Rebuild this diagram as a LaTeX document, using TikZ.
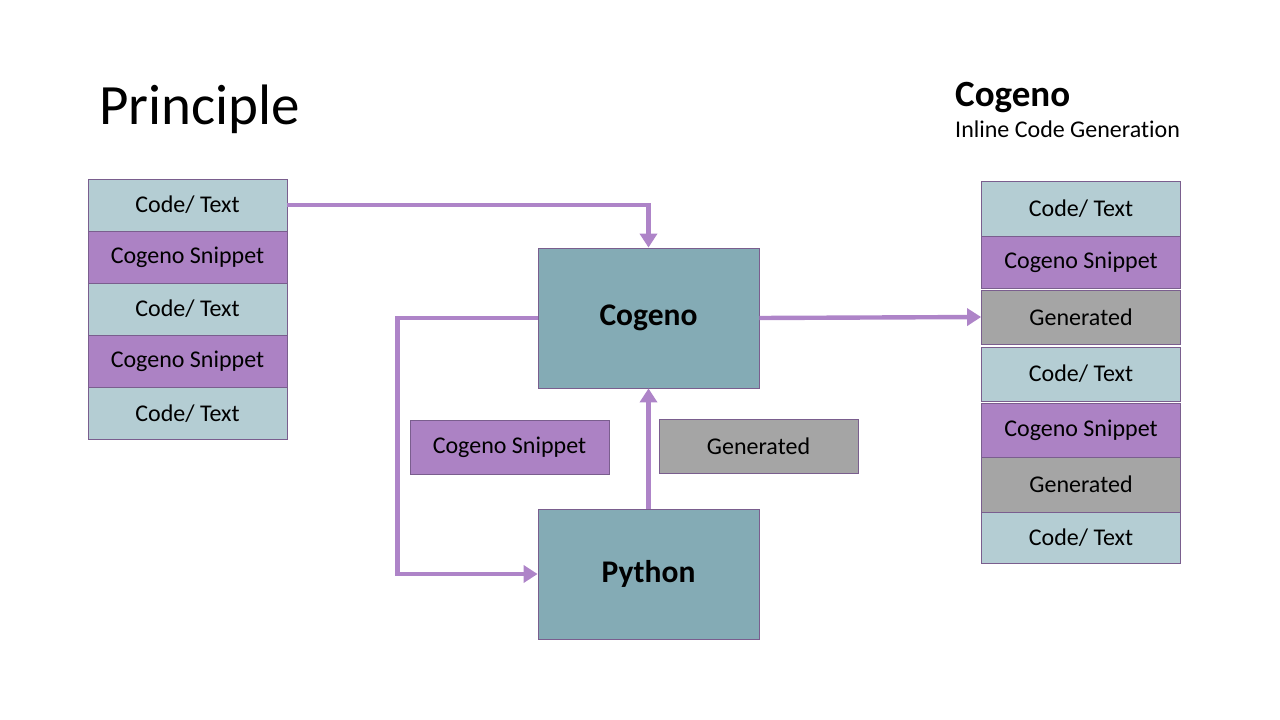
\documentclass[tikz,border=0pt]{standalone}
\usepackage{fontspec}
\setmainfont[RawFeature=-liga]{Carlito}
\usepackage{tikz}
\usetikzlibrary{arrows.meta}

\definecolor{codecol}{HTML}{B4CDD3}
\definecolor{snipcol}{HTML}{AC82C4}
\definecolor{gencol}{HTML}{A5A5A5}
\definecolor{boxcol}{HTML}{84ABB5}
\definecolor{edgecol}{HTML}{7A5E8E}
\definecolor{flowcol}{HTML}{AE84C8}

\tikzset{
  block/.style={draw=edgecol,line width=0.8pt,rectangle,inner sep=0pt,minimum width=199pt,minimum height=52pt,font=\fontsize{24pt}{28pt}\selectfont},
  code/.style={block,fill=codecol},
  snip/.style={block,fill=snipcol},
  gen/.style={block,fill=gencol},
  engine/.style={block,fill=boxcol,minimum width=221pt,minimum height=140pt,font=\fontsize{31.5pt}{36pt}\selectfont\bfseries},
  flow/.style={draw=flowcol,line width=4.4pt,-{Triangle[width=17pt,length=14pt]}}
}

\begin{document}
\begin{tikzpicture}[x=1pt,y=-1pt]
        \useasboundingbox (0,0) rectangle (1280,720);

        \node[anchor=base west,inner sep=0pt,font=\fontsize{57pt}{62pt}\selectfont] (title) at (99,124) {Principle};
        \node[anchor=base west,inner sep=0pt,font=\fontsize{37pt}{42pt}\selectfont\bfseries] (name) at (955,106) {Cogeno};
        \node[anchor=base west,inner sep=0pt,font=\fontsize{24pt}{28pt}\selectfont] (sub) at (955,137) {Inline Code Generation};

        % input file
        \begin{scope}[minimum height=52.4pt]
            \node[code] (l1) at (187.5,205) {Code/ Text};
            \node[snip] (l2) at (187.5,257.5) {Cogeno Snippet};
            \node[code] (l3) at (187.5,309) {Code/ Text};
            \node[snip] (l4) at (187.5,361) {Cogeno Snippet};
            \node[code] (l5) at (187.5,413.5) {Code/ Text};
        \end{scope}

        % engine
        \node[engine] (cogeno) at (648.5,318) {Cogeno};
        \node[engine,minimum height=130pt] (python) at (648.5,574) {Python};
        \node[snip,minimum height=54pt] (snippet) at (509.5,447) {Cogeno Snippet};
        \node[gen,minimum height=54pt] (generated) at (758.5,446) {Generated};

        % output file
        \begin{scope}
            \node[code,minimum height=55pt] (r1) at (1081,208.5) {Code/ Text};
            \node[snip] (r2) at (1081,262) {Cogeno Snippet};
            \node[gen,minimum height=54pt] (r3) at (1081,317) {Generated};
            \node[code,minimum height=54pt] (r4) at (1081,374) {Code/ Text};
            \node[snip,minimum height=54pt] (r5) at (1081,430) {Cogeno Snippet};
            \node[gen,minimum height=55pt] (r6) at (1081,484.5) {Generated};
            \node[code,minimum height=51pt] (r7) at (1081,537.5) {Code/ Text};
        \end{scope}

        % flow
        \draw[flow] (l1.east) -| (cogeno.north);
        \draw[flow] (cogeno.west) -- ++(-140,0) |- (python.west);
        \draw[flow] (python.north) -- (cogeno.south);
        \draw[flow] (cogeno.east) -- (r3.west);
    \end{tikzpicture}
\end{document}
